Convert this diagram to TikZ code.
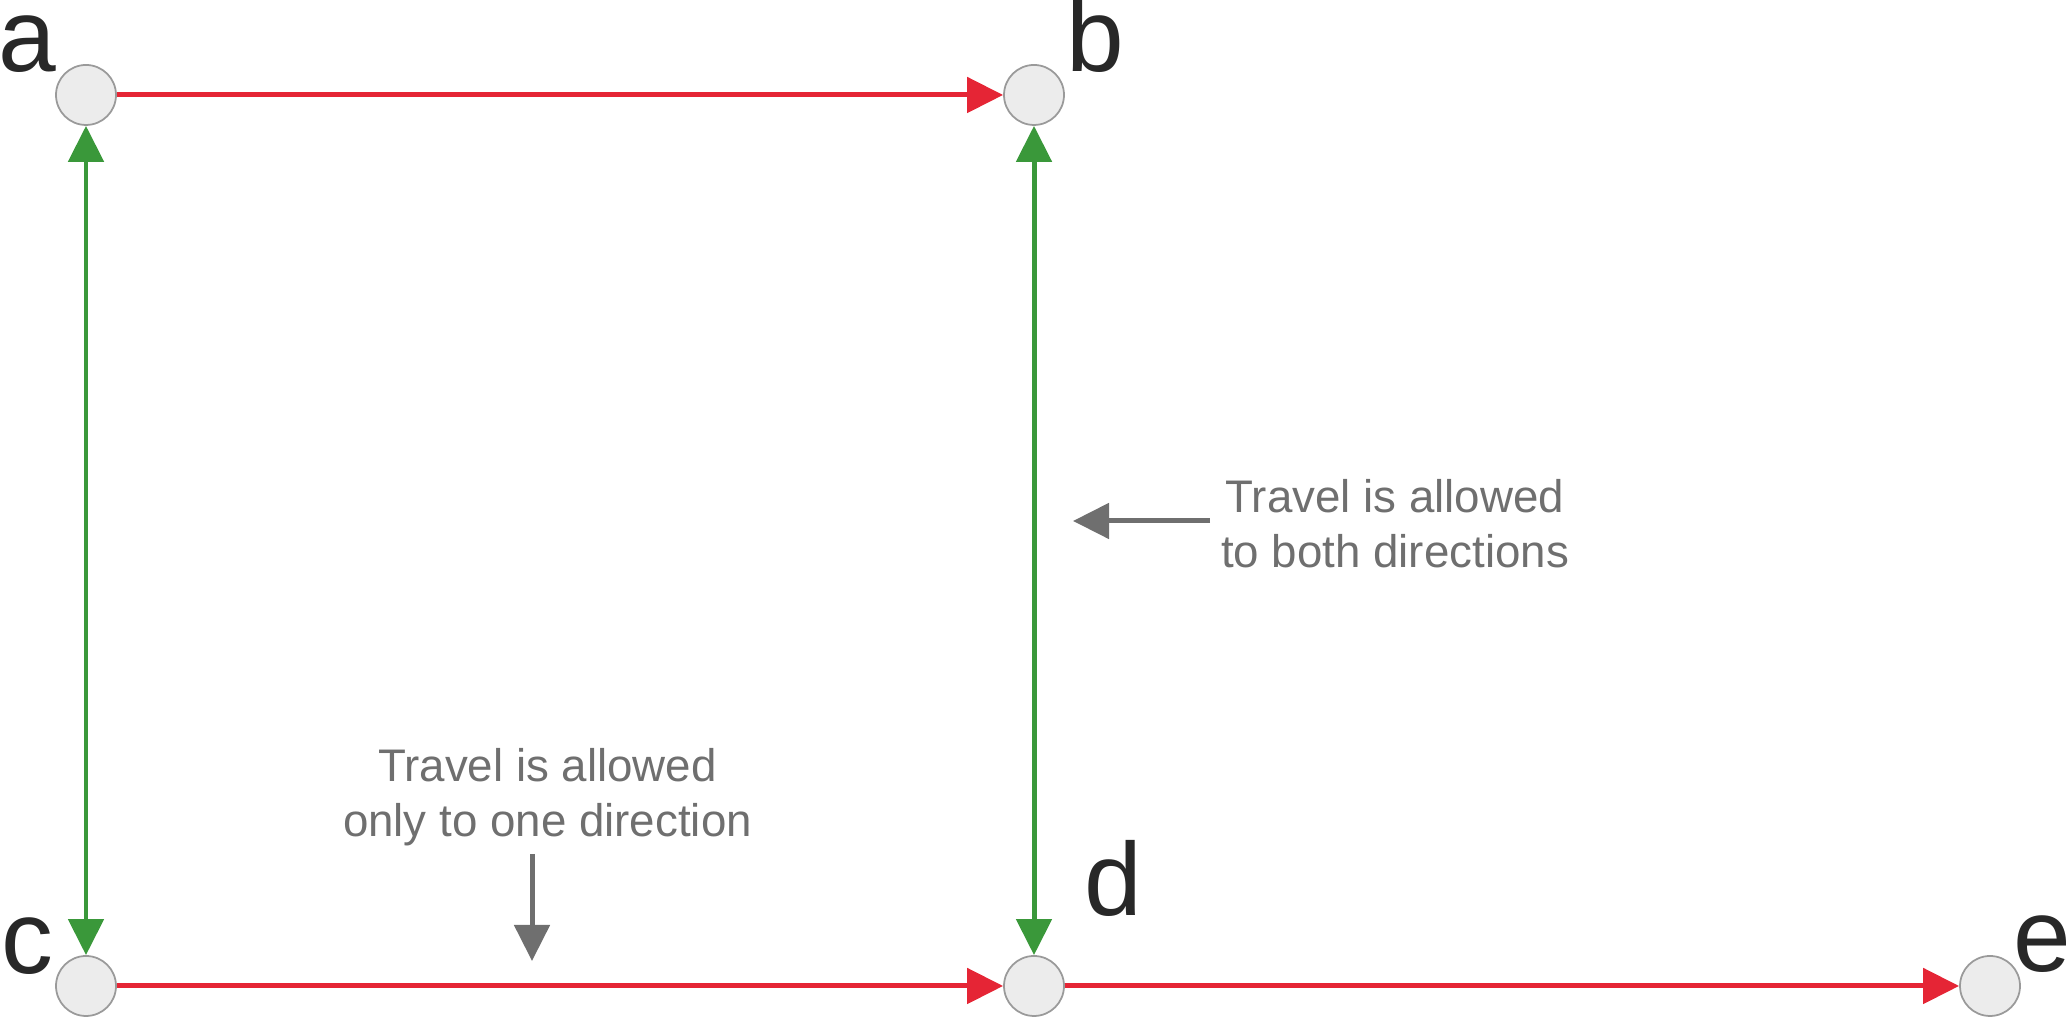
\documentclass[tikz,border=0pt]{standalone}
\usepackage{fontspec}
\setmainfont{Liberation Sans}
\usetikzlibrary{arrows.meta}
\definecolor{edgered}{HTML}{E52535}
\definecolor{edgegreen}{HTML}{3A983A}
\definecolor{hintgray}{HTML}{6F6F6F}
\definecolor{ringgray}{HTML}{9A9A9A}
\definecolor{dotfill}{HTML}{ECECEC}
\definecolor{lettergray}{HTML}{282828}
\tikzset{
    vertex/.style={circle,draw=ringgray,fill=dotfill,line width=0.5pt,minimum size=6mm,inner sep=0pt},
    letter/.style={anchor=base west,inner sep=0pt,text=lettergray,font=\fontsize{29.5pt}{30pt}\selectfont},
    oneway/.style={edgered,line width=1.42pt,-{Triangle[length=3.6mm,width=3.5mm]}},
    twoway/.style={edgegreen,line width=1.42pt,{Triangle[length=3.6mm,width=3.5mm]}-{Triangle[length=3.6mm,width=3.5mm]}},
    hint/.style={hintgray,line width=1.42pt,-{Triangle[length=3.6mm,width=3.5mm]}},
    note/.style={align=center,inner sep=0pt,text=hintgray,font=\fontsize{13pt}{15.6pt}\selectfont}
}
\begin{document}
\begin{tikzpicture}
    \useasboundingbox (0,0) rectangle (20.66,10.17);
    \node[vertex] (a) at (0.86,9.22) {};
    \node[vertex] (b) at (10.34,9.22) {};
    \node[vertex] (c) at (0.86,0.31) {};
    \node[vertex] (d) at (10.34,0.31) {};
    \node[vertex] (e) at (19.90,0.31) {};
    \node[letter] (la) at (-0.02,9.45) {a};
    \node[letter] (lb) at (10.66,9.45) {b};
    \node[letter] (lc) at (0.01,0.43) {c};
    \node[letter] (ld) at (10.84,1.01) {d};
    \node[letter] (le) at (20.13,0.45) {e};
    \draw[oneway] (a) -- (b);
    \draw[oneway] (c) -- (d);
    \draw[oneway] (d) -- (e);
    \draw[twoway] (a) -- (c);
    \draw[twoway] (b) -- (d);
    % Explanation texts
    \node[note] (both) at (13.95,4.93) {Travel is allowed\\to both directions};
    \node[note] (one) at (5.475,2.20) {Travel is allowed\\only to one direction};
    \coordinate (bothfrom) at (12.10,4.96);
    \coordinate (bothto) at (10.73,4.96);
    \coordinate (onefrom) at (5.32,1.63);
    \coordinate (oneto) at (5.32,0.56);
    \draw[hint] (bothfrom) -- (bothto);
    \draw[hint] (onefrom) -- (oneto);
\end{tikzpicture}
\end{document}
